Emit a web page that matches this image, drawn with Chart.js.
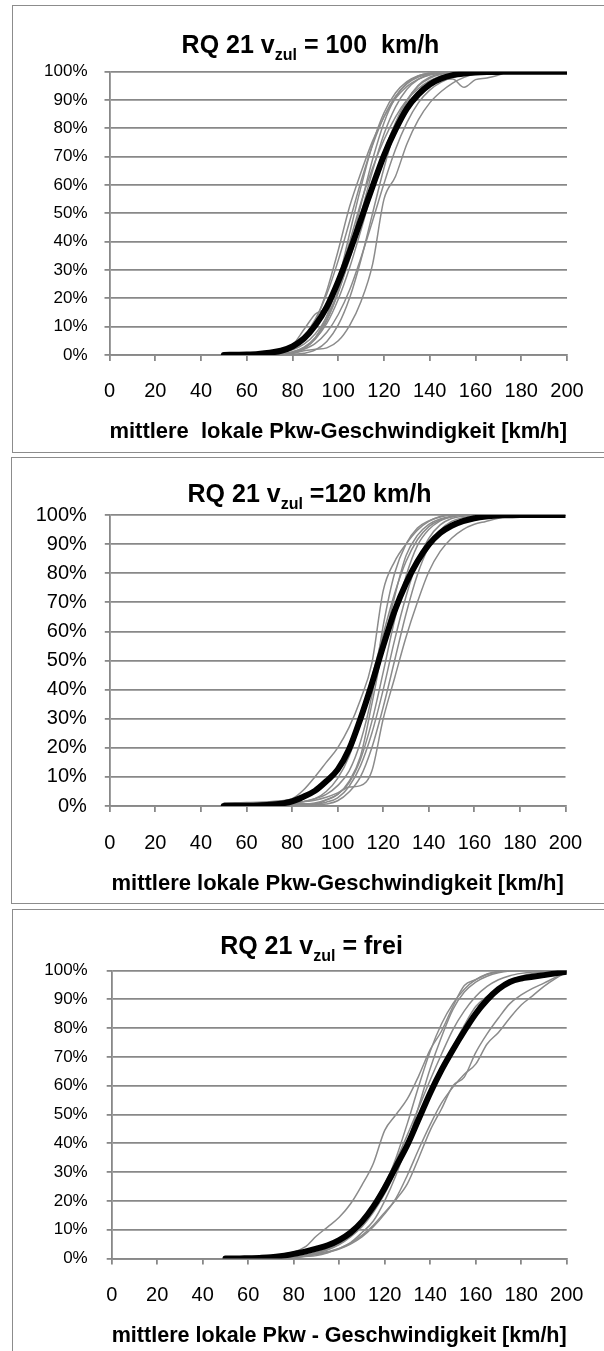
<!DOCTYPE html>
<html>
<head>
<meta charset="utf-8">
<script src="https://cdn.jsdelivr.net/npm/chart.js@4.4.1/dist/chart.umd.min.js"></script>
<style>
  html, body { margin: 0; padding: 0; background: #fff; overflow: hidden; }
  #page { position: relative; width: 604px; height: 1351px; overflow: hidden; background: #fff; }
  #page canvas { position: absolute; left: 0; }
  .frame { position: absolute; box-sizing: border-box; width: 700px; border: 1.5px solid #8c8c8c; border-right: none; }
</style>
</head>
<body>
<div id="page">
  <div class="frame" style="left:12px; top:5.3px; height:447.7px;"></div>
  <div class="frame" style="left:11px; top:457px; height:446.5px;"></div>
  <div class="frame" style="left:12px; top:908.7px; height:500px;"></div>
  <canvas id="c1" width="604" height="455" style="top:0px"></canvas>
  <canvas id="c2" width="604" height="450" style="top:455px"></canvas>
  <canvas id="c3" width="604" height="446" style="top:905px"></canvas>
</div>
<script>
// speed classes [km/h] shared by every curve
const speeds = [50,55,60,65,70,75,80,85,90,95,100,105,110,115,120,125,130,135,140,145,150,155,160,165,170,175,180,185,190,195,200];

// x-axis tick values and percentage ticks
const speedTicks = [0,20,40,60,80,100,120,140,160,180,200];
const percentTicks = [0,10,20,30,40,50,60,70,80,90,100];

// ---- RQ 21, v_zul = 100 km/h : cumulative share [%] ----
const mean100 = [0,0.1,0.2,0.4,0.8,1.5,3,5.8,10.5,17,26,36.5,48,59.5,70.5,79.5,87,92,95.5,97.6,98.8,99.4,99.7,99.85,99.9,100,100,100,100,100,100];
const s100a = [0,0,0,0.1,0.2,0.8,2.3,5.7,12.1,22.7,37,52.5,64.6,75.5,84.1,90.5,94.8,97.4,98.8,99.5,99.8,100,100,100,100,100,100,100,100,100,100];
const s100b = [0,0,0.1,0.2,0.5,1.4,3.1,6.7,12.7,21.5,33.4,47.2,61.4,74,84.1,91.3,95.7,98.1,99.2,99.7,99.9,100,100,100,100,100,100,100,100,100,100];
const s100c = [0,0,0.1,0.3,0.6,1.4,3.5,9,14.5,17,27,40,54,66,76,84,90,94,96.8,98.5,99.3,99.7,100,100,100,100,100,100,100,100,100];
const s100d = [0,0,0,0,0.1,0.4,1.1,2.7,6.2,12.5,22,35,50,65,78,87.5,93.8,97.3,99,99.6,99.9,100,100,100,100,100,100,100,100,100,100];
const s100e = [0,0,0,0,0.1,0.4,1.1,2.7,5.8,11.2,19.7,30.9,44.3,58.5,71.5,82,90,95,97.7,99.1,99.7,100,100,100,100,100,100,100,100,100,100];
const s100f = [0,0,0,0,0.1,0.3,0.5,1.5,2,2.5,5,10.5,19,32,55,63,74.5,83,89,93,96,98,99.3,99.8,100,100,100,100,100,100,100];
const s100g = [0,0,0,0.1,0.3,0.8,1.8,3.8,7.5,13.5,22.5,34,47,60,72,81.5,88.5,93,95.8,97.2,97.4,94.5,97.2,97.8,98.8,100,100,100,100,100,100];
const s100h = [0,0,0,0,0.1,0.3,0.8,2.3,5.6,12.2,22.7,37,53.3,69,82,90.9,96,98.5,99.5,99.9,100,100,100,100,100,100,100,100,100,100,100];
const s100i = [0,0,0,0,0,0.1,0.2,0.6,1.8,4.8,10.6,20.2,33.8,50,66,79.8,89.4,95.2,98.1,99.4,99.8,100,100,100,100,100,100,100,100,100,100];
const s100j = [0,0,0,0,0,0.2,0.7,2.3,6.1,13.8,26,43,59.5,74.5,85.5,92.5,96.5,98.6,99.5,99.9,100,100,100,100,100,100,100,100,100,100,100];
const s100k = [0,0,0,0,0.1,0.3,0.8,2,4.1,8,14.3,23,34.5,47.3,60.5,72.5,82,89,93.5,96.3,98,99,99.5,99.8,100,100,100,100,100,100,100];

// ---- RQ 21, v_zul = 120 km/h ----
const mean120 = [0,0.05,0.1,0.2,0.4,0.8,1.6,3.2,5.2,8.5,12.5,19.5,30,42,55,67,76.5,84,89.8,93.8,96.3,97.9,98.9,99.5,99.8,99.9,100,100,100,100,100];
const s120a = [1,1.1,1.2,1.3,1.5,1.8,2.5,5.5,10,15,20,27,36.5,49,74,84,90,94.8,97.8,99.5,100,100,100,100,100,100,100,100,100,100,100];
const s120b = [0.5,0.5,0.6,0.7,0.8,0.9,1,1.5,2.5,4,7,12,22,38,62,80,90,95.5,98,99.3,100,100,100,100,100,100,100,100,100,100,100];
const s120c = [0,0,0,0.1,0.2,0.3,0.4,0.5,1,2.2,4,8,16,29,46,64,79,89.5,95,98,99.4,100,100,100,100,100,100,100,100,100,100];
const s120d = [1,1,1,1,1,1.1,1.2,1.5,2,3,4.5,6.5,7,12,30,44,58,70,80.5,87.5,92,95,96.8,97.8,98.8,99.7,100,100,100,100,100];
const s120e = [0,0,0,0,0,0.1,0.2,0.3,0.5,1.3,2.8,6.7,13.8,25,40,57,72,84,92,96.6,98.8,99.6,100,100,100,100,100,100,100,100,100];
const s120f = [0.3,0.3,0.4,0.4,0.5,0.6,0.7,0.8,0.8,2,4,8.5,17,35,55,72,86,93,96.8,98.6,99.5,100,100,100,100,100,100,100,100,100,100];
const s120g = [0,0,0,0,0,0,0.1,0.2,0.3,0.7,1.8,4.8,10,20,34,50,66,79.5,89,94.8,97.8,99.1,99.7,100,100,100,100,100,100,100,100];
const s120h = [0.8,0.8,0.9,0.9,1,1.1,1.2,1.5,2.5,5,9.5,17,29,44,59,73,84,91.5,96,98.3,99.4,100,100,100,100,100,100,100,100,100,100];

// ---- RQ 21, v_zul = frei ----
const meanFrei = [0,0,0.1,0.2,0.4,0.9,1.6,2.4,3.4,4.6,6.4,9,12.8,18,24.5,32,39.5,48.5,57.5,65.5,72.5,79,85,89.8,93.5,96,97.2,97.8,98.4,99,99.6];
const sFreiA = [0,0,0.1,0.3,0.6,1.2,2.2,4,7.8,11,14.3,19,25.5,33,44.5,50,55.5,63.5,72.5,79,87.5,94.8,96.8,98.6,99.5,100,100,100,100,100,100];
const sFreiB = [0,0,0,0.1,0.2,0.3,0.5,1.1,2.2,3.5,5.5,8.5,13,19,26,34,43,52.5,62,71,79.5,86,91,94.5,96.8,98.2,99,99.5,99.8,100,100];
const sFreiC = [0,0,0,0,0.1,0.3,0.5,0.7,1,2,3.5,5.5,9,13,20,29,40,53,66,77,86.5,92.5,96,98,99.2,99.8,100,100,100,100,100];
const sFreiD = [0,0,0,0.1,0.1,0.2,0.4,0.9,1.8,3,4.8,7.5,11,16,22.5,30.5,39,48,56.5,65,73.5,81,87.5,91,94,96.5,98,99,99.6,100,100];
const sFreiE = [0,0,0,0.1,0.2,0.3,0.5,1,2,3.2,5,7.8,11.5,17,25,35,47,60,72,81.5,88.5,93.5,96.8,98.8,99.7,100,100,100,100,100,100];
const sFreiF = [0,0,0,0.1,0.2,0.3,0.5,1,1.6,2.4,3.5,5.3,8,11.5,16,20.5,26,35,44.5,52,60,63,71.5,78,83.5,88.5,91.5,93.8,95.6,97.6,99.3];
const sFreiG = [0,0,0,0,0.1,0.2,0.4,0.8,1.4,2.2,3.3,5,7.5,11,15.5,21,29,38,46.5,54,59.5,64,67.5,74.5,78.5,83.5,88,91.2,94.5,97.2,99.5];

const FONT = '"Liberation Sans", Arial, Helvetica, sans-serif';
Chart.defaults.font.family = FONT;
Chart.defaults.color = '#000';

const GRID = '#888888';
const CURVE = '#8b8b8b';

// title with subscript, drawn centred above the plot
const panelTitle = {
  id: 'panelTitle',
  afterDraw(chart, args, o) {
    const ctx = chart.ctx;
    ctx.save();
    const big = 'bold ' + o.size + 'px ' + FONT;
    const small = 'bold ' + o.subSize + 'px ' + FONT;
    ctx.font = big;
    const w1 = ctx.measureText(o.head).width;
    const w3 = ctx.measureText(o.tail).width;
    ctx.font = small;
    const w2 = ctx.measureText(o.sub).width;
    let x = o.cx - (w1 + w2 + w3) / 2;
    ctx.fillStyle = '#000';
    ctx.textBaseline = 'alphabetic';
    ctx.textAlign = 'left';
    ctx.font = big; ctx.fillText(o.head, x, o.base); x += w1;
    ctx.font = small; ctx.fillText(o.sub, x, o.base + o.subDrop); x += w2;
    ctx.font = big; ctx.fillText(o.tail, x, o.base);
    ctx.restore();
  }
};

function toPoints(values) {
  return speeds.map((v, i) => ({ x: v, y: values[i] }));
}

function drawPanel(p) {
  const datasets = [{
    data: toPoints(p.mean),
    borderColor: '#000',
    borderWidth: 6,
    borderCapStyle: 'round',
    cubicInterpolationMode: 'monotone',
    order: 0
  }];
  p.curves.forEach(c => datasets.push({
    data: toPoints(c),
    borderColor: CURVE,
    borderWidth: 1.5,
    cubicInterpolationMode: 'monotone',
    order: 1
  }));

  new Chart(document.getElementById(p.id), {
    type: 'line',
    data: { datasets },
    plugins: [panelTitle],
    options: {
      responsive: false,
      animation: false,
      events: [],
      elements: { point: { radius: 0 } },
      layout: { padding: p.padding },
      plugins: {
        legend: { display: false },
        tooltip: { enabled: false },
        panelTitle: p.title
      },
      scales: {
        x: {
          type: 'linear',
          min: speedTicks[0],
          max: speedTicks[speedTicks.length - 1],
          afterFit: s => { s.height = p.xHeight; },
          afterBuildTicks: s => { s.ticks = speedTicks.map(v => ({ value: v })); },
          grid: { drawOnChartArea: false, drawTicks: true, tickLength: 6, color: GRID, lineWidth: 1.8 },
          border: { display: true, color: GRID, width: 1.8 },
          ticks: { autoSkip: false, maxRotation: 0, padding: p.xTickPad, font: { size: 20 }, color: '#000' },
          title: {
            display: true,
            text: p.xTitle,
            font: { size: 22, weight: 'bold' },
            color: '#000',
            padding: { top: 0, bottom: p.xTitlePad }
          }
        },
        y: {
          min: 0,
          max: 100,
          afterFit: s => { s.width = p.yWidth; },
          afterBuildTicks: s => { s.ticks = percentTicks.map(v => ({ value: v })); },
          grid: { color: GRID, lineWidth: 1.8, tickLength: 5, drawTicks: true },
          border: { display: true, color: GRID, width: 1.8 },
          ticks: { padding: p.yTickPad, font: { size: p.yFont }, color: '#000', callback: v => v + '%' }
        }
      }
    }
  });
}

drawPanel({
  id: 'c1',
  mean: mean100,
  curves: [s100a, s100b, s100c, s100d, s100e, s100f, s100g, s100h, s100i, s100j, s100k],
  padding: { top: 71.7, left: 12.5, right: 37, bottom: 0 },
  xHeight: 100, yWidth: 97,
  xTickPad: 18, xTitlePad: 9.5, yTickPad: 17, yFont: 17,
  xTitle: 'mittlere  lokale Pkw-Geschwindigkeit [km/h]',
  title: { head: 'RQ 21 v', sub: 'zul', tail: ' = 100  km/h', cx: 310.5, base: 52.7, size: 25, subSize: 16, subDrop: 7 }
});

drawPanel({
  id: 'c2',
  mean: mean120,
  curves: [s120a, s120b, s120c, s120d, s120e, s120f, s120g, s120h],
  padding: { top: 60, left: 12.8, right: 38.5, bottom: 0 },
  xHeight: 99, yWidth: 97,
  xTickPad: 19, xTitlePad: 7.5, yTickPad: 18, yFont: 20,
  xTitle: 'mittlere lokale Pkw-Geschwindigkeit [km/h]',
  title: { head: 'RQ 21 v', sub: 'zul', tail: ' =120 km/h', cx: 309.5, base: 46.7, size: 25, subSize: 16, subDrop: 7 }
});

drawPanel({
  id: 'c3',
  mean: meanFrei,
  curves: [sFreiA, sFreiB, sFreiC, sFreiD, sFreiE, sFreiF, sFreiG],
  padding: { top: 65.5, left: 14.7, right: 37.3, bottom: 0 },
  xHeight: 92.5, yWidth: 97,
  xTickPad: 18.5, xTitlePad: 2, yTickPad: 19, yFont: 17,
  xTitle: 'mittlere lokale Pkw - Geschwindigkeit [km/h]',
  title: { head: 'RQ 21 v', sub: 'zul', tail: ' = frei', cx: 311.5, base: 49, size: 25, subSize: 16, subDrop: 7 }
});
</script>
</body>
</html>
